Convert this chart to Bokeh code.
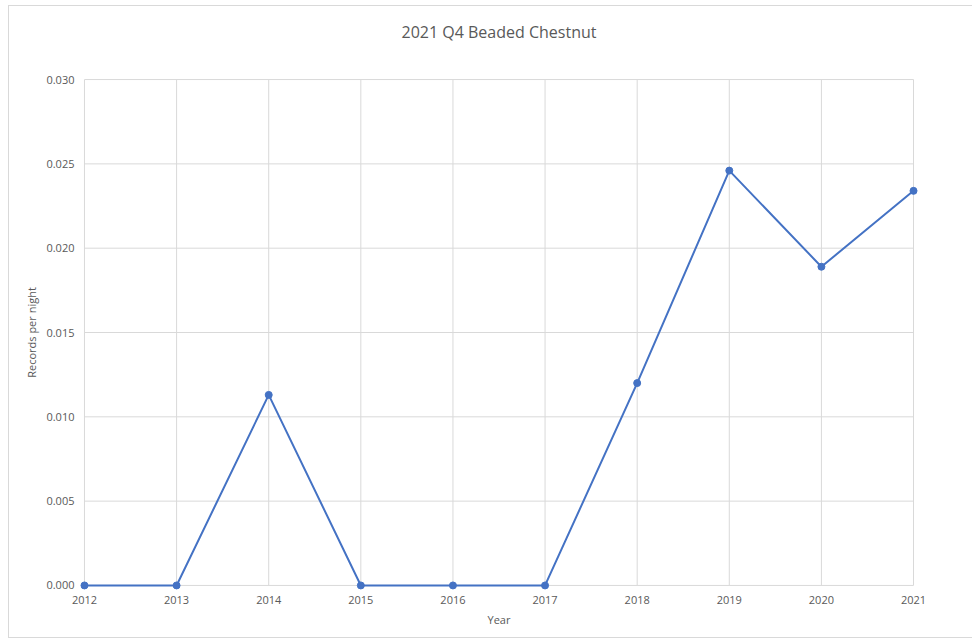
from bokeh.plotting import figure
from bokeh.models import Range1d, FixedTicker, NumeralTickFormatter
from bokeh.embed import file_html
from bokeh.resources import INLINE

# Records per night, Q4 each year
years = [2012, 2013, 2014, 2015, 2016, 2017, 2018, 2019, 2020, 2021]
records_per_night = [0.0, 0.0, 0.0113, 0.0, 0.0, 0.0, 0.0120, 0.0246, 0.0189, 0.0234]
y_ticks = [0.000, 0.005, 0.010, 0.015, 0.020, 0.025, 0.030]
chart_title = "2021 Q4 Beaded Chestnut"

FONT = "Open Sans"
TEXT = "#595959"
GRID = "#D9D9D9"
LINE = "#4472C4"

# small padding so that markers at the edges are not clipped by the frame
x_pad = 0.054
y_pad = 0.0003

p = figure(
    width=964, height=633,
    output_backend="svg", toolbar_location=None,
    x_range=Range1d(years[0] - x_pad, years[-1] + x_pad),
    y_range=Range1d(y_ticks[0] - y_pad, y_ticks[-1] + y_pad),
    min_border_left=70, min_border_right=55,
    min_border_top=68, min_border_bottom=49,
    # a second (blank) line keeps the title well clear of the plot area
    title=chart_title + "\n ",
)
p.margin = (5, 0, 0, 8)
p.styles = {"border-left": "1px solid #D9D9D9",
            "border-top": "1px solid #D9D9D9",
            "border-bottom": "1px solid #D9D9D9"}

p.outline_line_color = None
p.background_fill_color = "white"
p.border_fill_color = "white"

p.title.align = "center"
p.title.vertical_align = "top"
p.title.text_font = FONT
p.title.text_font_size = "16px"
p.title.text_font_style = "normal"
p.title.text_color = TEXT
p.title.standoff = 16

# gridlines drawn as segments spanning exactly the data extents
p.xgrid.visible = False
p.ygrid.visible = False
p.segment(x0=years, y0=[y_ticks[0]] * len(years), x1=years, y1=[y_ticks[-1]] * len(years),
          line_color=GRID, line_width=1)
p.segment(x0=[years[0]] * len(y_ticks), y0=y_ticks, x1=[years[-1]] * len(y_ticks), y1=y_ticks,
          line_color=GRID, line_width=1)

p.line(years, records_per_night, line_color=LINE, line_width=2)
p.scatter(years, records_per_night, size=7, fill_color=LINE, line_color=LINE)

for ax in (p.xaxis[0], p.yaxis[0]):
    ax.axis_line_color = None
    ax.major_tick_line_color = None
    ax.minor_tick_line_color = None
    ax.major_tick_out = 0
    ax.major_tick_in = 0
    ax.major_label_text_font = FONT
    ax.major_label_text_font_size = "11px"
    ax.major_label_text_color = TEXT
    ax.axis_label_text_font = FONT
    ax.axis_label_text_font_size = "11px"
    ax.axis_label_text_font_style = "normal"
    ax.axis_label_text_color = TEXT

p.xaxis.ticker = FixedTicker(ticks=years)
p.xaxis.axis_label = "Year"
p.xaxis.major_label_standoff = 5
p.xaxis.axis_label_standoff = 5

p.yaxis.ticker = FixedTicker(ticks=y_ticks)
p.yaxis.formatter = NumeralTickFormatter(format="0.000")
p.yaxis.axis_label = "Records per night"
p.yaxis.major_label_standoff = 5
p.yaxis.axis_label_standoff = 4

open("out.html", "w").write(file_html(p, INLINE))
